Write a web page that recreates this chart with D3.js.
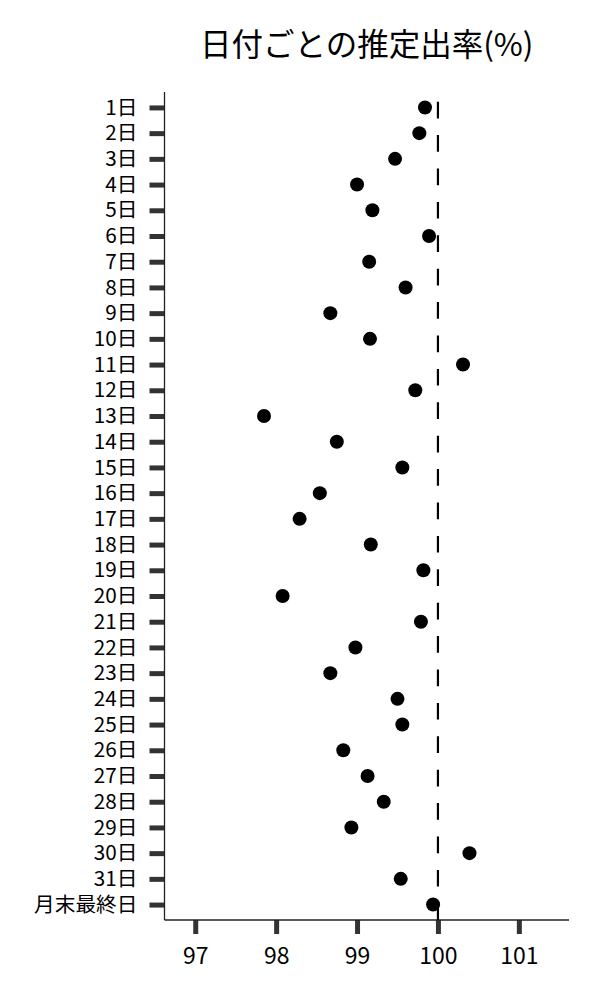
<!DOCTYPE html>
<html><head><meta charset="utf-8">
<script src="https://cdn.jsdelivr.net/npm/d3@7/dist/d3.min.js"></script>
<style>body{margin:0;background:#fff}svg{display:block}text{font-family:"Noto Sans CJK JP","Noto Sans",sans-serif}</style>
</head><body><svg id="c" width="600" height="1000"></svg>
<script>
const categories = ["1日","2日","3日","4日","5日","6日","7日","8日","9日","10日","11日","12日","13日","14日","15日","16日","17日","18日","19日","20日","21日","22日","23日","24日","25日","26日","27日","28日","29日","30日","31日","月末最終日"];
const values = [99.84,99.77,99.47,99.00,99.19,99.89,99.15,99.60,98.67,99.16,100.31,99.72,97.85,98.75,99.56,98.54,98.29,99.17,99.82,98.08,99.79,98.98,98.67,99.50,99.56,98.83,99.13,99.33,98.93,100.39,99.54,99.94];
const xTicks = [97,98,99,100,101];
const refValue = 100;
const title = "日付ごとの推定出率(%)";

const L = 164.5, R = 569, T = 92, B = 920;
const svg = d3.select("#c");
const x = d3.scaleLinear().domain([96.62,101.62]).range([L,R]);
const y = d3.scalePoint().domain(categories).range([T,B]).padding(0.6);

// title
svg.append("text").attr("x",(L+R)/2).attr("y",56).attr("text-anchor","middle")
  .style("font-size","31.5px").attr("fill","#000").text(title);

// x axis
const gx = svg.append("g").attr("transform",`translate(0,${B})`)
  .call(d3.axisBottom(x).tickValues(xTicks).tickSize(14).tickPadding(14).tickFormat(d3.format("d")));
gx.select(".domain").remove();
gx.selectAll(".tick line").attr("stroke","#333").attr("stroke-width",5);
gx.selectAll(".tick text").style("font-size","23px").attr("fill","#000").style("font-family",'"Noto Sans CJK JP",sans-serif');

// y axis
const gy = svg.append("g").attr("transform",`translate(${L},0)`)
  .call(d3.axisLeft(y).tickSize(15).tickPadding(12));
gy.select(".domain").remove();
gy.selectAll(".tick line").attr("stroke","#333").attr("stroke-width",5);
gy.selectAll(".tick text").style("font-size","20.7px").attr("fill","#000").style("font-family",'"Noto Sans CJK JP",sans-serif');

// axis lines
svg.append("line").attr("x1",L).attr("x2",L).attr("y1",T).attr("y2",B).attr("stroke","#222").attr("stroke-width",1.3);
svg.append("line").attr("x1",L).attr("x2",R).attr("y1",B).attr("y2",B).attr("stroke","#222").attr("stroke-width",1.3);

// reference dashed line
svg.append("line").attr("x1",x(refValue)).attr("x2",x(refValue)).attr("y1",B).attr("y2",T)
  .attr("stroke","#000").attr("stroke-width",2.2).attr("stroke-dasharray","16.7,16.7");

// points
svg.append("g").selectAll("circle").data(values).join("circle")
  .attr("cx",d=>x(d)).attr("cy",(d,i)=>y(categories[i])).attr("r",7).attr("fill","#000");
</script></body></html>
